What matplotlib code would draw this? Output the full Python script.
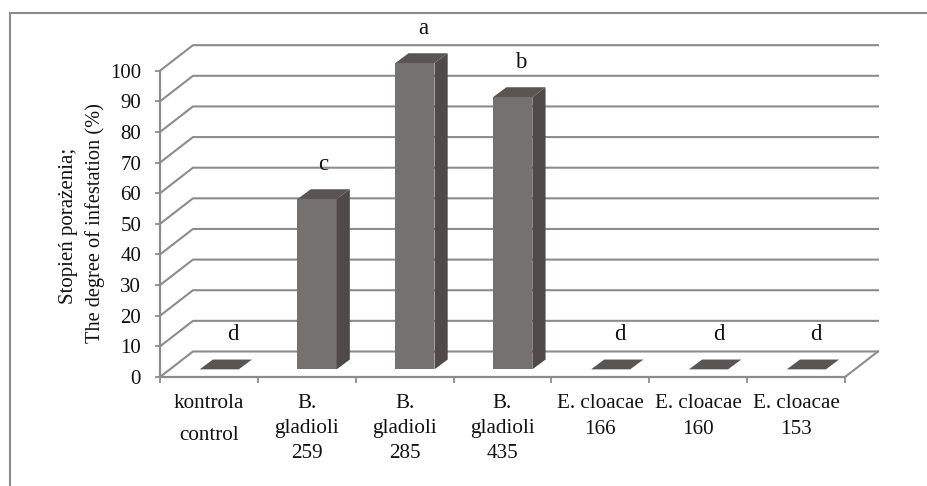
import matplotlib
matplotlib.use("Agg")
import matplotlib.pyplot as plt
from matplotlib.patches import Polygon, Rectangle

plt.rcParams['font.family'] = ['Liberation Serif', 'DejaVu Serif']

categories = ["kontrola\ncontrol", "B.\ngladioli\n259", "B.\ngladioli\n285", "B.\ngladioli\n435",
              "E. cloacae\n166", "E. cloacae\n160", "E. cloacae\n153"]
values = [0, 55.6, 100, 88.9, 0, 0, 0]
letters = ["d", "c", "a", "b", "d", "d", "d"]
yticks = list(range(0, 101, 10))

W, H = 927, 486
GRID = "#8c8c8c"
FRONT = "#757170"
SIDE = "#4f4a48"
TOP = "#5a5552"
TXT = "#111111"

# wall depth and bar offsets, in data units
DX, DY = 0.337, 8.33
BAR_W = 0.40
BAR_DX, BAR_DY = 0.135, 3.2
BAR_X0, BAR_Y0 = 0.405, 2.5
# the letters were placed by hand in the original, px right of the bar centre
LETTER_SHIFT = [14, 6, 8, 8, 9, 10.7, 9.7]

fig = plt.figure(figsize=(W / 100, H / 100), dpi=100)
ax = fig.add_axes([160 / W, 1 - 377 / H, 685 / W, 306.3 / H])
ax.set_xlim(0, 7)
ax.set_ylim(0, 100)
ax.patch.set_visible(False)
for s in ["top", "right"]:
    ax.spines[s].set_visible(False)
for s in ["left", "bottom"]:
    ax.spines[s].set_color(GRID)
    ax.spines[s].set_linewidth(1.6)

# chart border, only left and top are visible
fig.add_artist(plt.Line2D([9.5 / W, 9.5 / W], [0, 1 - 13 / H], color=GRID, lw=1.5))
fig.add_artist(plt.Line2D([9.5 / W, 1], [1 - 13 / H, 1 - 13 / H], color=GRID, lw=1.5))

# back wall and side wall grid
for v in yticks:
    ax.plot([0, DX, 7 + DX], [v, v + DY, v + DY], color=GRID, lw=1.5, clip_on=False, zorder=1)
# floor right edge
ax.plot([7, 7 + DX], [0, DY], color=GRID, lw=1.5, clip_on=False, zorder=1)

for i, v in enumerate(values):
    x0 = i + BAR_X0
    x1 = x0 + BAR_W
    y0 = BAR_Y0
    y1 = y0 + v
    ax.add_patch(Rectangle((x0, y0), BAR_W, v, fc=FRONT, ec="none", zorder=3, clip_on=False))
    ax.add_patch(Polygon([(x1, y0), (x1 + BAR_DX, y0 + BAR_DY), (x1 + BAR_DX, y1 + BAR_DY), (x1, y1)],
                         fc=SIDE, ec="none", zorder=3, clip_on=False))
    ax.add_patch(Polygon([(x0, y1), (x1, y1), (x1 + BAR_DX, y1 + BAR_DY), (x0 + BAR_DX, y1 + BAR_DY)],
                         fc=TOP, ec="none", zorder=3, clip_on=False))
    ax.annotate(letters[i], (x0 + BAR_W / 2, y1), xytext=(LETTER_SHIFT[i] * 0.72, 25), textcoords="offset points",
                ha="center", va="center", fontsize=16.5, color=TXT, zorder=4, annotation_clip=False)

ax.set_yticks(yticks)
ax.set_xticks(range(8))
ax.set_xticklabels([])
ax.tick_params(axis="y", length=3.6, width=1.3, color=GRID, labelsize=15, labelcolor=TXT, pad=10)
ax.tick_params(axis="x", length=4, width=1.3, color=GRID)

for i, lab in enumerate(categories):
    for j, part in enumerate(lab.split("\n")):
        ytxt = [403, 429, 453][j]
        if i == 0 and j == 1:
            ytxt = 435
        ax.annotate(part, (i + 0.5, 0), xytext=(0, -(ytxt - 377) * 0.72), textcoords="offset points",
                    ha="center", va="center", fontsize=15.2, color=TXT)

fig.text(69 / W, 1 - 226 / H, "Stopień porażenia;", rotation=90, ha="center", va="center", fontsize=15, color=TXT)
fig.text(95 / W, 1 - 223 / H, "The degree of infestation (%)", rotation=90, ha="center", va="center", fontsize=14.7, color=TXT)

fig.savefig("out.png", dpi=100)
